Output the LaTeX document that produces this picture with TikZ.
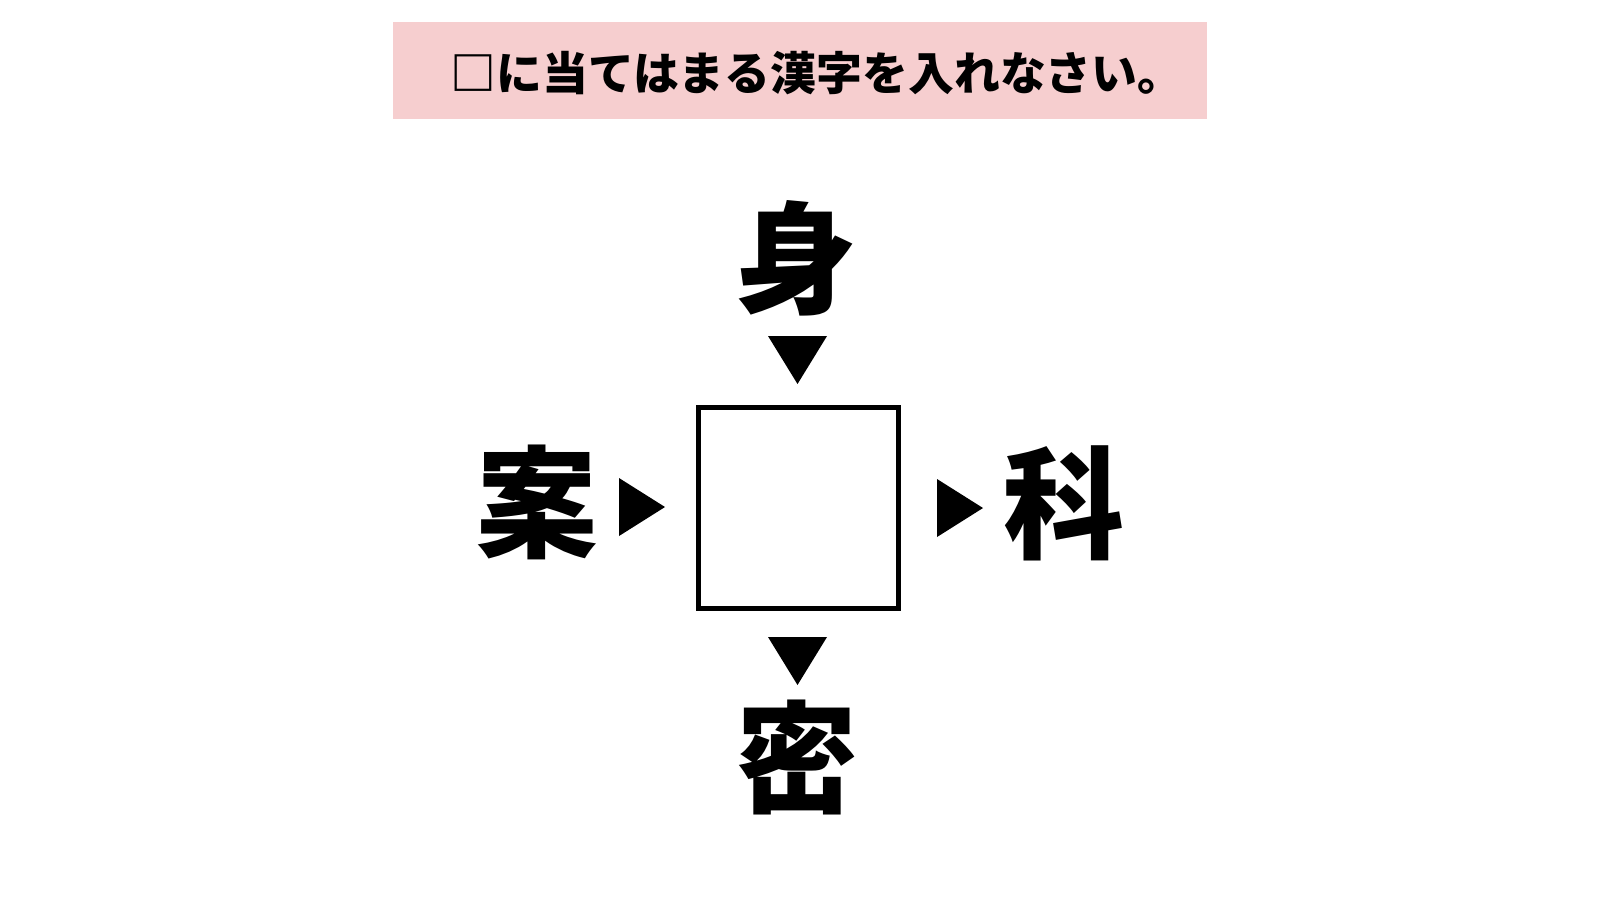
\documentclass[tikz,border=0pt]{standalone}
\usepackage{fontspec}
\newfontfamily\cjk{Noto Sans CJK JP}[UprightFont=* Black]
\definecolor{titlepink}{RGB}{246,206,207}
\tikzset{
  bigchar/.style={inner sep=0pt, font=\cjk\fontsize{34.5pt}{35pt}\selectfont},
  titletext/.style={inner sep=0pt, font=\cjk\fontsize{13.05pt}{14pt}\selectfont},
  blankbox/.style={draw=black, line width=0.05cm, minimum width=2.00cm, minimum height=2.01cm, inner sep=0pt},
  tri/.style={fill=black}
}
\begin{document}
\begin{tikzpicture}
\useasboundingbox (0,0) rectangle (16,-9);
\fill[white] (0,0) rectangle (16,-9);
% title
\node[fill=titlepink, minimum width=8.14cm, minimum height=0.97cm, inner sep=0pt] (titlebox) at (8.00,-0.705) {};
\node[titletext] (title) at (8.17,-0.735) {□に当てはまる漢字を入れなさい。};
% blank box
\node[blankbox] (blank) at (7.985,-5.08) {};
% characters
\node[bigchar] (mi) at (7.96,-2.58) {身};
\node[bigchar] (an) at (5.37,-5.02) {案};
\node[bigchar] (ka) at (10.64,-5.03) {科};
\node[bigchar] (mitsu) at (7.97,-7.57) {密};
% triangles
\fill[tri] (7.68,-3.36) -- (8.27,-3.36) -- (7.975,-3.84) -- cycle;
\fill[tri] (7.68,-6.37) -- (8.27,-6.37) -- (7.975,-6.85) -- cycle;
\fill[tri] (6.19,-4.78) -- (6.19,-5.36) -- (6.65,-5.07) -- cycle;
\fill[tri] (9.37,-4.79) -- (9.37,-5.37) -- (9.83,-5.08) -- cycle;
\end{tikzpicture}
\end{document}
